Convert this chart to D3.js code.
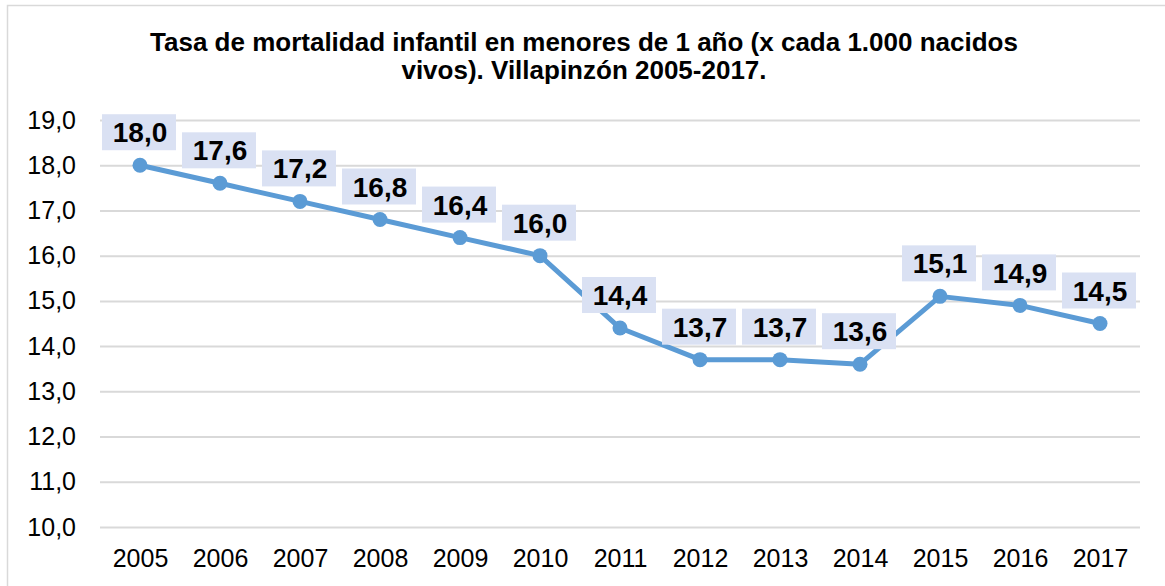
<!DOCTYPE html>
<html>
<head>
<meta charset="utf-8">
<script src="https://cdn.jsdelivr.net/npm/d3@7"></script>
<style>
  body { margin: 0; background: #fff; }
  text { font-family: "Liberation Sans", Arial, sans-serif; }
</style>
</head>
<body>
<div id="chart"></div>
<script>
var years = ["2005","2006","2007","2008","2009","2010","2011","2012","2013","2014","2015","2016","2017"]
var rates = [18.0, 17.6, 17.2, 16.8, 16.4, 16.0, 14.4, 13.7, 13.7, 13.6, 15.1, 14.9, 14.5]
var yTicks = [10, 11, 12, 13, 14, 15, 16, 17, 18, 19]
var titleLines = ["Tasa de mortalidad infantil en menores de 1 año (x cada 1.000 nacidos", "vivos). Villapinzón 2005-2017."]

const width = 1165
const height = 586
const margin = {top: 120, right: 25, bottom: 59, left: 100}

var fmt = function(v) { return d3.format(".1f")(v).replace(".", ",") }

const svg = d3.select("#chart")
  .append("svg")
  .attr("width", width)
  .attr("height", height)

// chart frame
svg.append("rect")
  .attr("x", 7.5)
  .attr("y", 5.5)
  .attr("width", 1200)
  .attr("height", 700)
  .style("fill", "none")
  .style("stroke", "#d9d9d9")
  .style("stroke-width", 1.5)

var x = d3.scalePoint()
  .domain(years)
  .range([margin.left, width - margin.right])
  .padding(0.5)

var y = d3.scaleLinear()
  .domain([10, 19])
  .range([height - margin.bottom, margin.top])

// title
svg.append("text")
  .attr("x", 584)
  .attr("y", 51)
  .attr("text-anchor", "middle")
  .style("font-size", "26px")
  .style("font-weight", "bold")
  .selectAll("tspan")
  .data(titleLines)
  .enter().append("tspan")
  .attr("x", 584)
  .attr("dy", function(d, i) { return i == 0 ? 0 : 28 })
  .text(function(d) { return d })

// gridlines + y labels
var yAxis = d3.axisLeft(y)
  .tickValues(yTicks)
  .tickSize(-(width - margin.right - margin.left))
  .tickPadding(24)
  .tickFormat(fmt)

var gy = svg.append("g")
  .attr("transform", "translate(" + margin.left + ",0)")
  .call(yAxis)
gy.select(".domain").remove()
gy.selectAll(".tick line")
  .style("stroke", "#d9d9d9")
  .style("stroke-width", 2)
gy.selectAll(".tick text")
  .style("font-size", "25px")
  .style("fill", "#000")
  .attr("font-family", null)

// x labels
var xAxis = d3.axisBottom(x)
  .tickSize(0)
  .tickPadding(22)

var gx = svg.append("g")
  .attr("transform", "translate(0," + y(10) + ")")
  .call(xAxis)
gx.select(".domain").remove()
gx.selectAll(".tick text")
  .style("font-size", "25px")
  .style("fill", "#000")
  .attr("font-family", null)

var points = years.map(function(d, i) { return {year: d, value: rates[i]} })

var line = d3.line()
  .x(function(d) { return x(d.year) })
  .y(function(d) { return y(d.value) })

svg.append("path")
  .datum(points)
  .attr("d", line)
  .style("fill", "none")
  .style("stroke", "#5b9bd5")
  .style("stroke-width", 5)
  .style("stroke-linejoin", "round")

svg.selectAll(".dot")
  .data(points)
  .enter().append("circle")
  .attr("class", "dot")
  .attr("cx", function(d) { return x(d.year) })
  .attr("cy", function(d) { return y(d.value) })
  .attr("r", 7.5)
  .style("fill", "#5b9bd5")

// data labels with shaded boxes
var labels = svg.selectAll(".lbl")
  .data(points)
  .enter().append("g")
  .attr("class", "lbl")
  .attr("transform", function(d) { return "translate(" + x(d.year) + "," + (y(d.value) - 33) + ")" })

labels.append("rect")
  .attr("x", -38)
  .attr("y", -18)
  .attr("width", 74)
  .attr("height", 36)
  .style("fill", "#dae1f3")

labels.append("text")
  .attr("text-anchor", "middle")
  .attr("dy", "0.36em")
  .style("font-size", "28px")
  .style("font-weight", "bold")
  .style("fill", "#000")
  .text(function(d) { return fmt(d.value) })
</script>
</body>
</html>
